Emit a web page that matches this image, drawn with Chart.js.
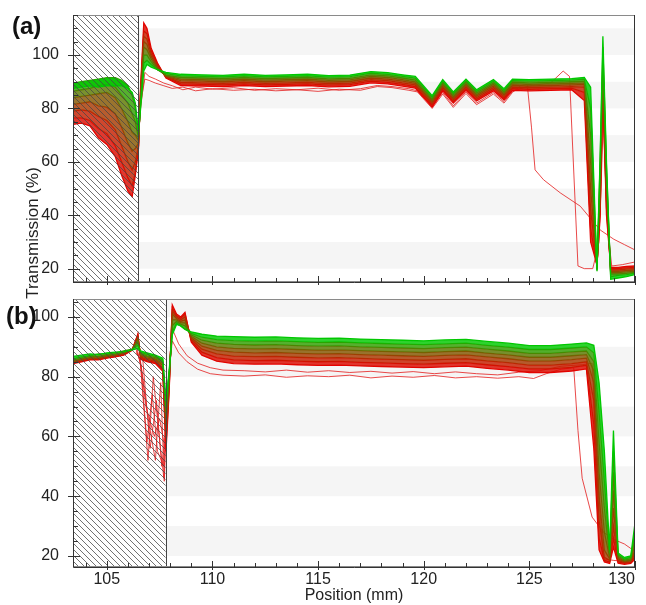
<!DOCTYPE html>
<html>
<head>
<meta charset="utf-8">
<title>Transmission vs position</title>
<script src="https://cdn.jsdelivr.net/npm/chart.js@4.4.1/dist/chart.umd.min.js"></script>
<style>
  body { margin: 0; background: #fff; }
  #wrap { position: relative; width: 646px; height: 605px; font-family: "Liberation Sans", Arial, sans-serif; color: #222; }
  #wrap canvas { position: absolute; left: 0; }
  #chartA { top: 0; }
  #chartB { top: 290px; }
  .tag { position: absolute; font-weight: bold; font-size: 24px; color: #111; }
  #ylab { position: absolute; left: 33px; top: 233px; font-size: 17px; white-space: nowrap;
          transform: translate(-50%, -50%) rotate(-90deg); }
</style>
</head>
<body>
<div id="wrap">
  <canvas id="chartA" width="646" height="290"></canvas>
  <canvas id="chartB" width="646" height="315"></canvas>
  <div class="tag" style="left:12px;top:12px">(a)</div>
  <div class="tag" style="left:6px;top:302px">(b)</div>
  <div id="ylab">Transmission (%)</div>
</div>
<script>
/* #region  DATA */
// panel (a): shared positions (mm) for the main runs, first run (red) .. last run (green)
const posA = [103.4, 103.8, 104.2, 104.6, 105.0, 105.4, 105.7, 106.0, 106.2, 106.35,
  106.5, 106.6, 106.75, 106.9, 107.1, 107.4, 107.8, 108.5, 109.5, 110.5,
  111.5, 112.5, 113.5, 114.5, 115.5, 116.5, 117.5, 118.3, 119.0, 119.6,
  120.4, 120.9, 121.4, 122.0, 122.5, 123.3, 123.8, 124.2, 125.0, 126.0,
  127.0, 127.6, 127.9, 128.2, 128.35, 128.48, 128.65, 128.85, 129.2, 129.6,
  130.0];

const runA0 = [74, 74.5, 73.5, 69, 66.5, 62, 55, 49, 47, 55,
  65, 88, 112, 110, 102.5, 97, 91.4, 88.6, 88.4, 88.2,
  88.6, 88.2, 88.4, 88.6, 88.1, 88.3, 89.6, 89.2, 88.4, 87.6,
  80.6, 86.6, 82, 86.8, 82.8, 86.6, 83.2, 86.8, 86.6, 86.8,
  87, 83, 30, 21.5, 40, 87, 40, 20.5, 20.5, 20.8,
  21];
const runA1 = [76.5, 76.5, 75.5, 72.5, 70.5, 66, 60, 54, 51, 56,
  66, 87, 109, 108, 101.5, 96.5, 91.6, 89.2, 89, 88.8,
  89.2, 88.8, 89, 89.2, 88.7, 88.9, 90.2, 89.8, 89, 88.2,
  81.2, 87.2, 82.6, 87.4, 83.4, 87.2, 83.8, 87.4, 87.2, 87.4,
  87.6, 86, 35, 21, 42, 89, 43, 20, 20, 20.3,
  20.5];
const runA2 = [79, 79.5, 79, 77, 75.5, 72, 66, 60, 57, 60,
  66, 86, 107, 106, 100.5, 96, 91.8, 89.8, 89.6, 89.4,
  89.8, 89.4, 89.6, 89.8, 89.3, 89.5, 90.8, 90.4, 89.6, 88.8,
  81.8, 87.8, 83.2, 88, 84, 87.8, 84.4, 88, 87.8, 88,
  88.2, 88, 42, 21, 45, 91, 46, 19.5, 19.5, 19.8,
  20];
const runA3 = [81.5, 82, 82.5, 81, 80.5, 78, 73, 67, 64, 65,
  67, 85, 105, 104, 99.5, 95.5, 92, 90.4, 90.2, 90,
  90.4, 90, 90.2, 90.4, 89.9, 90.1, 91.4, 91, 90.2, 89.4,
  82.4, 88.4, 83.8, 88.6, 84.6, 88.4, 85, 88.6, 88.4, 88.6,
  88.8, 89, 50, 20.5, 48, 93, 49, 19, 19, 19.3,
  19.5];
const runA4 = [84, 84.5, 85, 85.5, 86, 84, 80, 75, 71, 70,
  68, 84, 103, 102, 98.5, 95, 92.3, 91, 90.8, 90.6,
  91, 90.6, 90.8, 91, 90.5, 90.7, 92, 91.6, 90.8, 90,
  83, 89, 84.4, 89.2, 85.2, 89, 85.6, 89.2, 89, 89.2,
  89.4, 89.6, 60, 20, 52, 96, 52, 18.5, 18.5, 18.8,
  19];
const runA5 = [86.5, 87, 87.5, 88.5, 89, 88, 85, 82, 78, 75,
  69, 83, 100, 100, 97.5, 94.5, 92.5, 91.6, 91.4, 91.2,
  91.6, 91.2, 91.4, 91.6, 91.1, 91.3, 92.6, 92.2, 91.4, 90.6,
  83.6, 89.6, 85, 89.8, 85.8, 89.6, 86.2, 89.8, 89.6, 89.8,
  90, 90.2, 70, 20, 56, 99, 55, 18, 18, 18.2,
  18.6];
const runA6 = [89.5, 90, 90.5, 91, 91.5, 91.5, 90.5, 88.5, 85, 80,
  70, 82, 97, 98, 96.5, 94.5, 93, 92.2, 92, 91.8,
  92.2, 91.8, 92, 92.2, 91.7, 91.9, 93.2, 92.8, 92, 91.4,
  84.2, 90.2, 85.6, 90.4, 86.4, 90.2, 86.8, 90.4, 90.2, 90.4,
  90.6, 91, 80, 19.5, 60, 103, 58, 17, 17.5, 17.8,
  18.3];
const runA7 = [87.5, 88, 88.5, 88, 88.5, 88.5, 88.5, 87.5, 86, 82,
  71, 80, 94, 96.5, 95.5, 94.5, 93.5, 92.8, 92.6, 92.4,
  92.8, 92.4, 92.6, 92.8, 92.3, 92.5, 93.8, 93.4, 92.6, 92,
  84.8, 90.8, 86.2, 91, 87, 90.8, 87.4, 91, 90.8, 91,
  91.2, 91.6, 88, 19, 62, 107, 60, 16, 16.5, 17,
  17.8];

// panel (a): stray runs
const strayA1Pos = [106.6, 106.8, 107.0, 107.3, 107.7, 108.1, 108.6, 109.2, 110, 111,
  112, 113, 114, 115, 116, 117, 117.8, 118.5, 119.3, 119.7,
  120.4, 120.9, 121.4, 122.0, 122.5, 123.3, 123.8, 124.2, 125, 126,
  126.6, 126.9, 127.3, 127.6, 128.0, 128.3, 128.5, 128.7, 128.9, 129.4,
  130];
const strayA1 = [80, 93.5, 92, 91, 89.5, 88.5, 87, 88, 87.2, 87.8,
  86.8, 87.4, 87, 87.6, 86.8, 87.4, 88.6, 88.2, 87.4, 86.6,
  80.5, 86, 81, 86.2, 82, 86, 82.6, 86.4, 88.5, 89.5,
  94, 92, 21, 20, 20, 30, 75, 35, 21, 21.5,
  22.5];
const strayA2Pos = [106.6, 106.8, 107.0, 107.3, 107.7, 108.1, 108.6, 109.2, 110, 111,
  112, 113, 114, 115, 116, 117, 117.8, 118.5, 119.3, 119.7,
  120.4, 120.9, 121.4, 122.0, 122.5, 123.3, 123.8, 124.2, 124.6, 124.9,
  125.1, 125.27, 125.67, 126.46, 127.41, 128.35, 129, 129.5, 130];
const strayA2 = [82, 91, 90.5, 89.5, 88.5, 87.5, 88, 86.6, 87.4, 86.8,
  87.2, 86.6, 87, 86.4, 87.2, 86.8, 88.2, 87.8, 86.8, 86.2,
  80, 85.4, 80.4, 85.6, 81.4, 85.4, 82, 86, 88.6, 89,
  73, 57, 53.3, 48.4, 43.4, 34.5, 31, 29, 27];

// panel (b)
const posB = [103.4, 103.8, 104.2, 104.6, 105.0, 105.4, 105.8, 106.2, 106.47, 106.6,
  106.9, 107.3, 107.65, 107.8, 107.95, 108.1, 108.3, 108.5, 108.7, 109.0,
  109.5, 110.2, 111, 112, 113, 114, 115, 116, 117, 118,
  119, 120, 121, 122, 123, 124, 125, 126, 127, 127.7,
  128.05, 128.3, 128.55, 128.8, 128.98, 129.2, 129.5, 129.8, 130.0];

const runB0 = [84.4, 85, 85.6, 85.6, 86.2, 86.6, 87.2, 88.8, 94.3, 85.8,
  85, 84.4, 81.8, 55, 75, 104, 101, 100, 101.5, 91.5,
  87.2, 85.2, 84.4, 84.2, 84.3, 84, 83.8, 83.9, 83.6, 83.4,
  83.2, 83, 83.3, 83.5, 82.8, 82.2, 81.4, 81.4, 81.9, 82.6,
  56, 22, 18, 17.5, 23, 17.6, 17.2, 17.5, 19];
const runB1 = [84.6, 85.2, 85.8, 85.8, 86.4, 86.8, 87.4, 89, 94, 86.2,
  85.4, 84.8, 82.4, 57, 76, 103, 100.5, 99.5, 101, 92,
  88.2, 86.4, 85.6, 85.4, 85.5, 85.2, 85, 85.1, 84.8, 84.6,
  84.4, 84.2, 84.5, 84.7, 84, 83.4, 82.6, 82.6, 83.1, 83.8,
  64, 26, 18.5, 18, 26, 18, 17.5, 17.8, 20];
const runB2 = [84.8, 85.4, 86, 86, 86.6, 87, 87.6, 89, 93.5, 86.6,
  85.8, 85.2, 83, 60, 77, 102, 100, 99, 100, 92.5,
  89.2, 87.6, 86.9, 86.7, 86.8, 86.5, 86.3, 86.4, 86.1, 85.9,
  85.7, 85.5, 85.8, 86, 85.3, 84.7, 83.9, 83.9, 84.4, 85,
  72, 32, 19.5, 18.5, 30, 18.5, 17.8, 18, 21];
const runB3 = [85, 85.6, 86.2, 86.2, 86.8, 87.2, 87.8, 89, 93, 87,
  86.2, 85.6, 83.8, 63, 78, 101, 99.5, 98.5, 99, 93,
  90.2, 88.8, 88.2, 88, 88.1, 87.8, 87.6, 87.7, 87.4, 87.2,
  87, 86.8, 87.1, 87.3, 86.6, 86, 85.2, 85.2, 85.7, 86.2,
  78, 40, 22, 19, 36, 19, 18, 18.3, 22];
const runB4 = [85.2, 86, 86.4, 86.6, 87, 87.4, 88, 89, 92.5, 87.4,
  86.6, 86, 84.4, 66, 79, 99, 99, 98, 98, 93.5,
  91.2, 90, 89.5, 89.3, 89.4, 89.1, 88.9, 89, 88.7, 88.5,
  88.3, 88.1, 88.4, 88.6, 87.9, 87.3, 86.5, 86.5, 87, 87.4,
  82, 48, 28, 19.5, 42, 19.5, 18.3, 18.6, 24];
const runB5 = [85.6, 86.2, 86.8, 86.8, 87.4, 87.6, 88.2, 89, 91.5, 87.8,
  87, 86.4, 85, 68, 80, 97, 98.5, 97.5, 97, 94,
  92.2, 91.2, 90.8, 90.6, 90.7, 90.4, 90.2, 90.3, 90, 89.8,
  89.6, 89.4, 89.7, 89.9, 89.2, 88.6, 87.8, 87.8, 88.3, 88.6,
  85, 58, 36, 20, 48, 20, 18.6, 19, 26];
const runB6 = [86, 86.6, 87, 87.6, 87.6, 88, 88.6, 89.2, 90.5, 88.2,
  87.5, 86.8, 85.6, 70, 81, 95, 98, 97, 96, 94.5,
  93.2, 92.4, 92.1, 91.9, 92, 91.7, 91.5, 91.6, 91.3, 91.1,
  90.9, 90.7, 91, 91.2, 90.5, 89.9, 89.1, 89.1, 89.6, 90,
  88, 68, 45, 21, 55, 20.5, 19, 19.5, 28];
const runB7 = [86.8, 87.2, 87.6, 87.4, 88, 88.2, 88.4, 89, 89.4, 88.6,
  88, 87.2, 86.2, 72, 82, 94, 97.5, 97, 95.8, 95,
  94.2, 93.6, 93.4, 93.2, 93.3, 93, 92.8, 92.9, 92.6, 92.4,
  92.2, 92, 92.3, 92.5, 91.8, 91.2, 90.4, 90.4, 90.9, 91.3,
  90.5, 78, 55, 22, 62, 21, 19.5, 20, 31];

// panel (b): runs that fall early inside the hatched zone
const fanB1Pos = [106.4, 106.57, 106.95, 107.2, 107.45, 107.7, 107.85];
const fanB1 = [88, 86, 52, 80, 62, 46, 70];
const fanB2Pos = [106.4, 106.6, 106.9, 107.15, 107.4, 107.7, 107.85];
const fanB2 = [88.5, 85, 58, 74, 55, 50, 72];
const fanB3Pos = [106.4, 106.62, 107.0, 107.3, 107.55, 107.72, 107.85];
const fanB3 = [89, 84, 64, 52, 78, 45, 70];
const fanB4Pos = [106.45, 106.65, 106.85, 107.25, 107.5, 107.75, 107.85];
const fanB4 = [89, 82, 70, 60, 66, 56, 72];
const fanB5Pos = [106.5, 106.7, 107.05, 107.35, 107.6, 107.75, 107.85];
const fanB5 = [90, 86, 56, 72, 50, 60, 74];

// panel (b): low stray runs
const strayB1Pos = [107.9, 108.1, 108.4, 108.8, 109.3, 109.9, 110.5, 111.5, 112.5, 113.5,
  114.5, 115.5, 116.5, 117.5, 118.5, 119.5, 120.5, 121.5, 122.5, 123.5,
  124.5, 125.2, 125.8, 126.5, 127.1, 127.3, 127.5, 127.97, 128.5, 129.0,
  129.5, 129.8, 130.0];
const strayB1 = [78, 92, 88, 85, 82.5, 81, 80.5, 80.2, 80.6, 79.8,
  80.3, 80, 80.5, 79.6, 80.2, 79.8, 80.4, 79.6, 80, 79.5,
  80, 79.4, 81, 82.5, 83, 62, 46, 33, 28, 25.5,
  24, 22.5, 22];
const strayB2Pos = [107.9, 108.1, 108.4, 108.8, 109.3, 109.9, 110.5, 111.5, 112.5, 113.5,
  114.5, 115.5, 116.5, 117.5, 118.5, 119.5, 120.5, 121.5, 122.5, 123.5,
  124.5, 125.5, 126.5, 127.5, 127.97, 128.25, 128.5, 129, 129.5, 130];
const strayB2 = [76, 96, 91, 87, 84.5, 83, 82.2, 82, 81.6, 82.2,
  81.5, 82, 81.4, 81.8, 81.2, 81.7, 81, 81.6, 81, 80.6,
  81.5, 82, 83.5, 84, 84.5, 45, 19, 18.5, 18.2, 19];

const yTicks = [20, 40, 60, 80, 100];
const xTicks = [103.4, 105, 110, 115, 120, 125, 130];
const shadedBands = [[20, 30], [40, 50], [60, 70], [80, 90], [100, 110]];
/* #endregion */

/* #region  HELPERS */
function runColor(t, alpha) {
  const k = Math.pow(t, 1.5);
  const r = Math.round(232 * (1 - k));
  const g = Math.round(200 * k);
  return `rgba(${r}, ${g}, 0, ${alpha})`;
}

function toPoints(pos, vals) {
  return pos.map((x, i) => ({ x, y: vals[i] }));
}

function mainRuns(pos, runs) {
  return runs.map((vals, i) => {
    const t = i / (runs.length - 1);
    return {
      data: toPoints(pos, vals),
      borderColor: runColor(t, 1),
      backgroundColor: runColor(t, 0.82),
      borderWidth: 1.3,
      fill: i === 0 ? false : "-1",
      order: runs.length - i,
      pointRadius: 0,
      tension: 0,
    };
  });
}

function strayRun(pos, vals) {
  return {
    data: toPoints(pos, vals),
    borderColor: "rgba(228, 30, 30, 0.9)",
    borderWidth: 0.9,
    fill: false,
    order: 50,
    pointRadius: 0,
    tension: 0,
  };
}

// bands, hatched zone, frame and inward ticks
const panelDecor = {
  id: "panelDecor",
  beforeDatasetsDraw(chart, args, opts) {
    const { ctx, chartArea: a, scales: { x, y } } = chart;
    ctx.save();
    ctx.fillStyle = "#f5f5f5";
    shadedBands.forEach(([lo, hi]) => {
      const top = Math.max(y.getPixelForValue(hi), a.top);
      const bot = Math.min(y.getPixelForValue(lo), a.bottom);
      if (bot > top) ctx.fillRect(a.left, top, a.width, bot - top);
    });
    const hx = x.getPixelForValue(opts.hatchEnd);
    ctx.fillStyle = "#fff";
    ctx.fillRect(a.left, a.top, hx - a.left, a.height);
    ctx.restore();
  },
  afterDatasetsDraw(chart, args, opts) {
    const { ctx, chartArea: a, scales: { x, y } } = chart;
    const hx = x.getPixelForValue(opts.hatchEnd);
    ctx.save();
    ctx.beginPath();
    ctx.rect(a.left, a.top, hx - a.left, a.height);
    ctx.clip();
    ctx.strokeStyle = "rgba(70, 70, 70, 0.85)";
    ctx.lineWidth = 0.9;
    ctx.beginPath();
    for (let k = -a.height; k < hx - a.left; k += 6) {
      ctx.moveTo(a.left + k, a.top);
      ctx.lineTo(a.left + k + a.height, a.bottom);
    }
    ctx.stroke();
    ctx.restore();

    ctx.save();
    ctx.lineWidth = 1;
    ctx.strokeStyle = "#444";
    ctx.beginPath();
    ctx.moveTo(Math.round(hx) + 0.5, a.top);
    ctx.lineTo(Math.round(hx) + 0.5, a.bottom);
    ctx.stroke();

    ctx.strokeStyle = "#8a8a8a";
    ctx.strokeRect(a.left + 0.5, a.top + 0.5, a.width - 1, a.height - 1);
    ctx.strokeStyle = "#333";
    ctx.beginPath();
    ctx.moveTo(a.left + 0.5, a.top);
    ctx.lineTo(a.left + 0.5, a.bottom + 0.5);
    ctx.lineTo(a.right, a.bottom + 0.5);
    ctx.moveTo(a.right - 0.5, a.top);
    ctx.lineTo(a.right - 0.5, a.bottom);
    ctx.stroke();

    ctx.beginPath();
    for (let v = Math.ceil(y.min / 5) * 5; v <= y.max; v += 5) {
      const py = Math.round(y.getPixelForValue(v)) + 0.5;
      if (v % 20 === 0) {
        ctx.moveTo(a.left - 5, py);
        ctx.lineTo(a.left + 7, py);
      } else {
        ctx.moveTo(a.left, py);
        ctx.lineTo(a.left + 5, py);
      }
    }
    for (let mm = Math.ceil(x.min); mm <= x.max; mm++) {
      const px = Math.round(x.getPixelForValue(mm)) + 0.5;
      if (mm % 5 === 0) {
        ctx.moveTo(px, a.bottom + 3);
        ctx.lineTo(px, a.bottom - 6);
      } else {
        ctx.moveTo(px, a.bottom);
        ctx.lineTo(px, a.bottom - 4);
      }
    }
    ctx.stroke();
    ctx.restore();
  },
};

const tickFont = { family: "'Liberation Sans', Arial, sans-serif", size: 16 };

function yScale(min, max) {
  return {
    type: "linear",
    min: min,
    max: max,
    grid: { display: false },
    border: { display: false },
    ticks: { font: tickFont, color: "#222", padding: 6 },
    afterBuildTicks: (scale) => {
      scale.ticks = yTicks.map((value) => ({ value }));
    },
    afterFit: (scale) => {
      scale.width = 73;
      scale.paddingTop = 0;
      scale.paddingBottom = 0;
    },
  };
}
/* #endregion */

/* #region  CHARTS */
Chart.defaults.font.family = "'Liberation Sans', Arial, sans-serif";

const chartA = new Chart(document.getElementById("chartA"), {
  type: "line",
  data: {
    datasets: [
      ...mainRuns(posA, [runA0, runA1, runA2, runA3, runA4, runA5, runA6, runA7]),
      strayRun(strayA1Pos, strayA1),
      strayRun(strayA2Pos, strayA2),
    ],
  },
  options: {
    responsive: false,
    animation: false,
    events: [],
    layout: { padding: { top: 15, right: 11, bottom: 8, left: 0 } },
    scales: {
      x: { type: "linear", min: 103.4, max: 130, display: false },
      y: yScale(15, 115),
    },
    plugins: {
      legend: { display: false },
      tooltip: { enabled: false },
      panelDecor: { hatchEnd: 106.5 },
    },
  },
  plugins: [panelDecor],
});

const chartB = new Chart(document.getElementById("chartB"), {
  type: "line",
  data: {
    datasets: [
      ...mainRuns(posB, [runB0, runB1, runB2, runB3, runB4, runB5, runB6, runB7]),
      strayRun(fanB1Pos, fanB1),
      strayRun(fanB2Pos, fanB2),
      strayRun(fanB3Pos, fanB3),
      strayRun(fanB4Pos, fanB4),
      strayRun(fanB5Pos, fanB5),
      strayRun(strayB1Pos, strayB1),
      strayRun(strayB2Pos, strayB2),
    ],
  },
  options: {
    responsive: false,
    animation: false,
    events: [],
    layout: { padding: { top: 9, right: 11, bottom: 0, left: 0 } },
    scales: {
      x: {
        type: "linear",
        min: 103.4,
        max: 130,
        grid: { display: false, drawTicks: false },
        border: { display: false },
        ticks: {
          font: tickFont,
          color: "#222",
          padding: 3,
          maxRotation: 0,
          autoSkip: false,
          align: "inner",
          // the first tick only anchors the inner alignment, it has no label
          callback: (value) => (value === 103.4 ? "" : value),
        },
        title: {
          display: true,
          text: "Position (mm)",
          font: { size: 16 },
          color: "#222",
          padding: { top: 0, bottom: 0 },
        },
        afterBuildTicks: (scale) => {
          scale.ticks = xTicks.map((value) => ({ value }));
        },
        afterFit: (scale) => {
          scale.height = 38;
          scale.paddingLeft = 0;
          scale.paddingRight = 0;
        },
      },
      y: yScale(16.3, 106),
    },
    plugins: {
      legend: { display: false },
      tooltip: { enabled: false },
      panelDecor: { hatchEnd: 107.78 },
    },
  },
  plugins: [panelDecor],
});
/* #endregion */
</script>
</body>
</html>
